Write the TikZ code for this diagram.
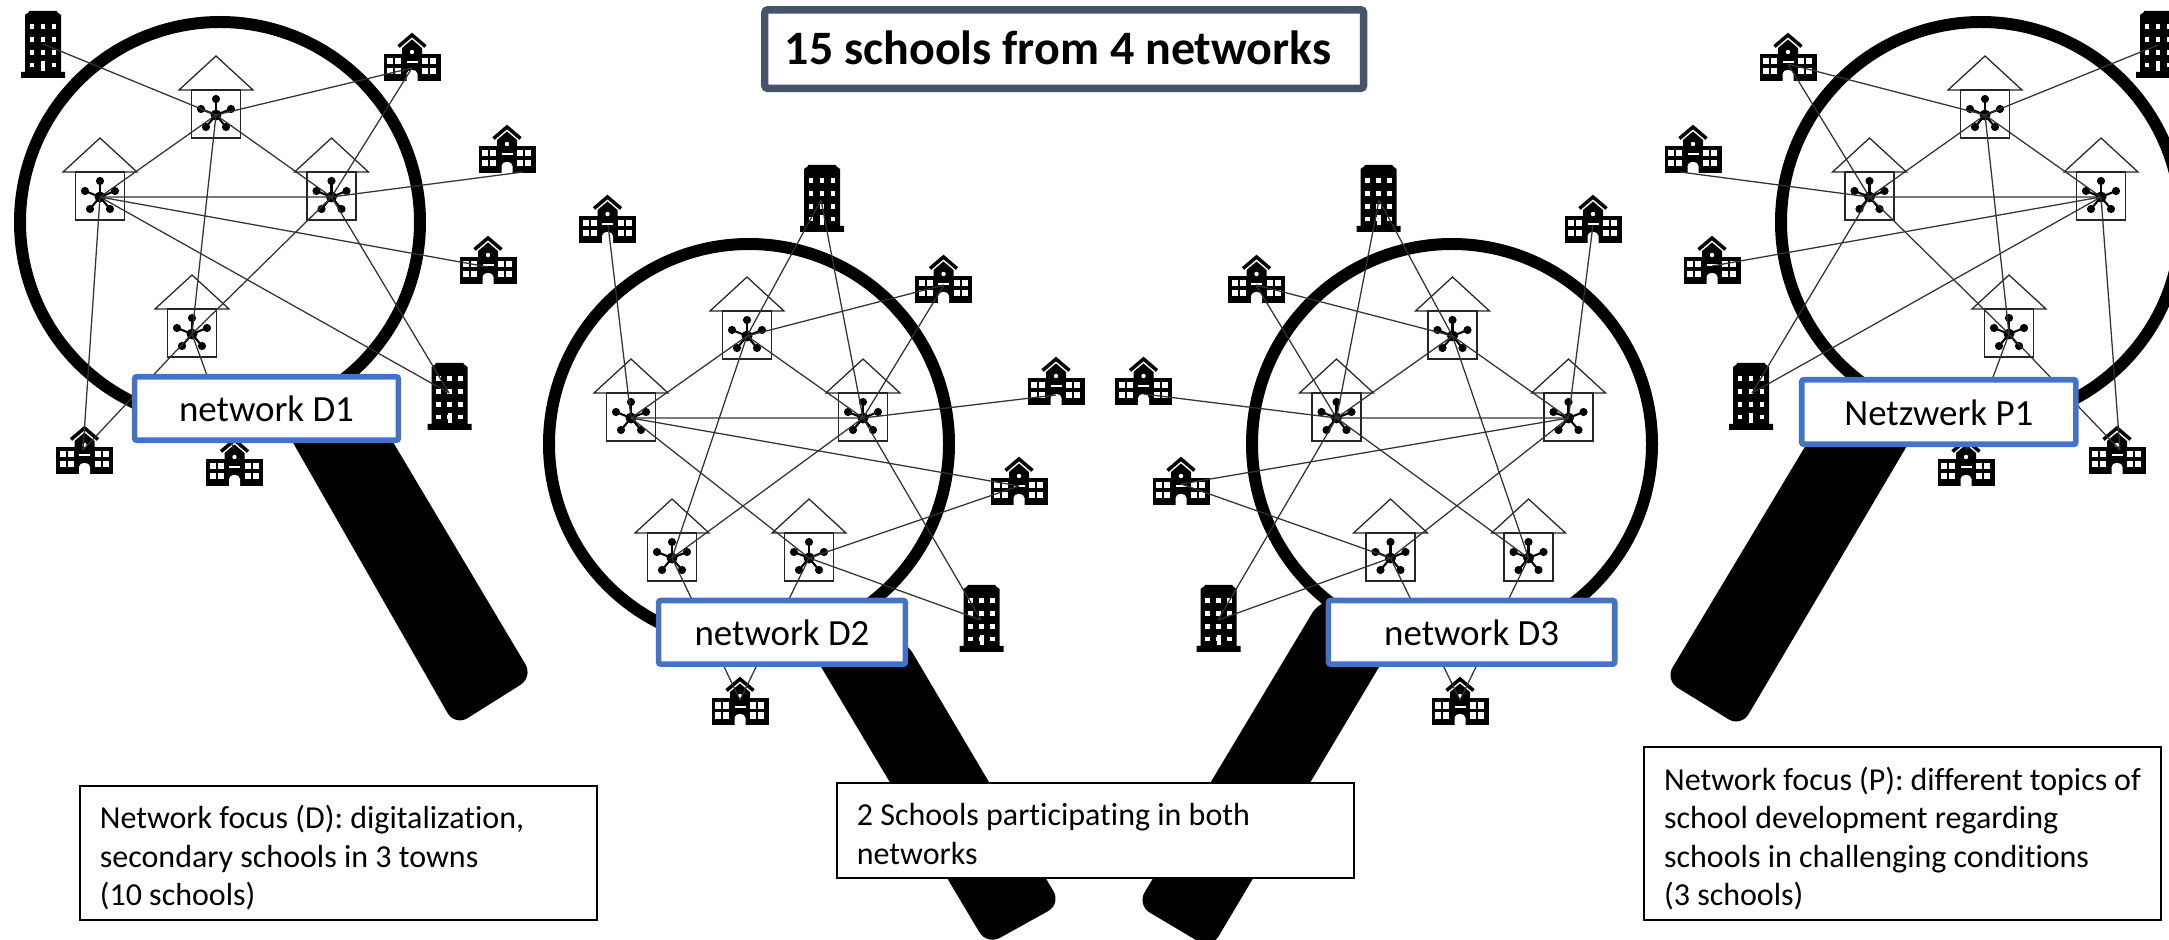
\documentclass[tikz,border=0pt]{standalone}
\usepackage{fontspec}
\setmainfont[Ligatures=NoCommon]{Carlito}
\definecolor{lensblue}{HTML}{4472C4}
\definecolor{titleslate}{HTML}{44546A}
\definecolor{linkgrey}{HTML}{333333}
\tikzset{
  school/.pic={
    \fill[black] (-28.5,21) rectangle (28.5,48);
    \fill[black] (-10,22) -- (-10,15) -- (0,6.5) -- (10,15) -- (10,22) -- cycle;
    \draw[black,line width=1pt] (-13.5,13.5) -- (0,2) -- (13.5,13.5);
    \fill[white] (0,19) circle[radius=2.2];
    \fill[white] (-5.5,48) -- (-5.5,41) .. controls (-5.5,35.5) and (5.5,35.5) .. (5.5,41) -- (5.5,48) -- cycle;
    \fill[white] (-5.5,28.5) rectangle (5.5,30.5);
    \foreach \px in {-25,-17,10,18}{
      \foreach \py in {25,35}{
        \fill[white] (\px,\py) rectangle ++(6.3,6.5);
      }
    }
  },
  tallblock/.pic={
    \fill[black] (-14,0) -- (14,0) -- (14,1) -- (18,4) -- (18,61) -- (22,61) -- (22,67) -- (-22,67) -- (-22,61) -- (-18,61) -- (-18,4) -- (-14,1) -- cycle;
    \foreach \py in {15.7,28.3,41.3,54}{
      \foreach \px in {-11,0,11}{
        \fill[white] (\px-2.4,\py-2.4) rectangle (\px+2.4,\py+2.4);
      }
    }
    \fill[white] (-2,50) rectangle (2,60);
  },
  hubhouse/.pic={
    \draw[housedraw] (-37,-25) -- (0,-59) -- (37,-25) -- cycle;
    \draw[housedraw] (-24.5,-25) rectangle (24.5,23);
    \foreach \dx/\dy in {0/-16,-15/-6,15/-6,-10/12,10/12}{
      \draw[black,line width=.6pt] (0,0) -- (\dx,\dy);
      \fill[black] (\dx,\dy) circle[radius=4.1];
    }
    \fill[black] (0,0) circle[radius=5.5];
  },
  housedraw/.style={draw=black!85,line width=.36pt},
  link/.style={draw=linkgrey,line width=.36pt},
  grip/.style={fill=black,rounded corners=4.2pt},
  ring/.style={draw=black,line width=3.41pt},
  lenslabel/.style={draw=lensblue,fill=white,line width=1.6pt,rounded corners=.6pt,inner sep=0pt,
    font=\fontsize{10.5}{13}\selectfont,text height=9.3pt,text depth=1.9pt,minimum height=.635cm},
  notebox/.style={draw=black,fill=white,line width=.55pt,inner ysep=0pt,inner xsep=.2cm,
    font=\fontsize{9.1}{10.95}\selectfont,align=left,text width=4.765cm},
}
\newcommand{\plainsp}{\spaceskip=0pt \xspaceskip=0pt \hyphenpenalty=10000 }
\newcommand{\hubAt}[2]{\coordinate (#1) at (#2); \pic at (#1) {hubhouse};}
\newcommand{\schoolAt}[3]{\pic at (#2) {school}; \coordinate (#1) at (#3);}
\newcommand{\towerAt}[3]{\pic at (#2) {tallblock}; \coordinate (#1) at (#3);}
\begin{document}
\begin{tikzpicture}[x=0.01cm,y=-0.01cm]
\useasboundingbox (0,0) rectangle (2169,940);
\begin{scope}
\clip (0,0) rectangle (2169,940);
% handles
\fill[grip] (260,385) -- (455,726) -- (533,677) -- (359,385) -- cycle;
\fill[grip] (805,640) -- (987,945) -- (1061,904) -- (905,640) -- cycle;
\fill[grip] (1320,600) -- (1137,905) -- (1211,949) -- (1419,600) -- cycle;
\fill[grip] (1833,400) -- (1665,680) -- (1741,727) -- (1934,400) -- cycle;
% lenses
\draw[ring] (220,222) circle[radius=200];
\draw[ring] (749,444) circle[radius=200];
\draw[ring] (1452,444) circle[radius=200];
\draw[ring] (1981,222) circle[radius=200];
% network D1
\towerAt{dat}{43,11}{43,44}
\towerAt{dau}{449.5,363}{449,393}
\schoolAt{das}{412,33}{412,68}
\schoolAt{dbs}{507,125}{523,172}
\schoolAt{dcs}{488,236}{488,267}
\schoolAt{dds}{84.5,426}{83,450}
\schoolAt{des}{234.5,438}{234,450}
\hubAt{da}{216,115}
\hubAt{db}{100,197}
\hubAt{dc}{331.5,197}
\hubAt{dd}{192,334}
\draw[link] (da)--(db) (da)--(dc) (db)--(dc) (da)--(dd) (dc)--(dd);
\draw[link] (dat)--(da) (das)--(da) (das)--(dc) (dbs)--(dc) (dcs)--(db) (dau)--(db) (dau)--(dc) (dds)--(db) (dds)--(dd) (des)--(dd);
% network D2
\towerAt{eat}{822,165}{821,200}
\towerAt{eau}{981.5,585}{981,620}
\schoolAt{eas}{607.5,195}{608,225}
\schoolAt{ebs}{943.5,255}{944,285}
\schoolAt{ecs}{1056,357}{1056,395}
\schoolAt{eds}{1019,457}{1019,486}
\schoolAt{ees}{740,677}{740,700}
\hubAt{ea}{747,336}
\hubAt{eb}{631,418}
\hubAt{ec}{863,418}
\hubAt{ed}{672,558}
\hubAt{ee}{809,558}
\draw[link] (ea)--(eb) (ea)--(ec) (eb)--(ec) (ea)--(ed) (ec)--(ed) (eb)--(ee);
\draw[link] (eas)--(eb) (eat)--(ea) (eat)--(ec) (ebs)--(ea) (ebs)--(ec) (ecs)--(ec) (eds)--(eb) (eds)--(ee) (eau)--(ec) (eau)--(ee) (ees)--(ed) (ees)--(ee);
% network D3
\towerAt{fat}{1378.5,165}{1379,200}
\towerAt{fau}{1218.5,585}{1218,620}
\schoolAt{fas}{1593,195}{1593,225}
\schoolAt{fbs}{1256.5,255}{1256,285}
\schoolAt{fcs}{1143.5,357}{1143.5,394}
\schoolAt{fds}{1181,457}{1181,484}
\schoolAt{fes}{1460,677}{1460,700}
\hubAt{fa}{1452.5,336}
\hubAt{fb}{1336.5,418}
\hubAt{fc}{1568.5,418}
\hubAt{fd}{1390.5,558}
\hubAt{fe}{1528.5,558}
\draw[link] (fa)--(fb) (fa)--(fc) (fb)--(fc) (fa)--(fe) (fc)--(fd) (fb)--(fe);
\draw[link] (fas)--(fc) (fat)--(fb) (fat)--(fa) (fbs)--(fa) (fbs)--(fb) (fcs)--(fb) (fds)--(fc) (fds)--(fd) (fau)--(fb) (fau)--(fd) (fes)--(fd) (fes)--(fe);
% network P1
\towerAt{gat}{2158,11}{2158,45}
\towerAt{gau}{1751,363}{1752,393}
\schoolAt{gas}{1788,33}{1788,64}
\schoolAt{gbs}{1693,125}{1680,172}
\schoolAt{gcs}{1712,236}{1712,266}
\schoolAt{gds}{2117,426}{2120,450}
\schoolAt{ges}{1966,438}{1966,450}
\hubAt{ga}{1985,115}
\hubAt{gb}{1869.5,197}
\hubAt{gc}{2101,197}
\hubAt{gd}{2009,334}
\draw[link] (ga)--(gb) (ga)--(gc) (gb)--(gc) (ga)--(gd) (gb)--(gd);
\draw[link] (gat)--(ga) (gas)--(ga) (gas)--(gb) (gbs)--(gb) (gcs)--(gc) (gau)--(gb) (gau)--(gc) (gds)--(gc) (gds)--(gd) (ges)--(gd);
% labels on the lenses
\node[lenslabel,minimum width=2.635cm] (ld1) at (266.5,408.5) {network D1};
\node[lenslabel,minimum width=2.466cm] (ld2) at (782,632.3) {network D2};
\node[lenslabel,minimum width=2.862cm] (ld3) at (1471.6,632.3) {network D3};
\node[lenslabel,minimum width=2.74cm,minimum height=.645cm] (lp1) at (1938.8,412) {Netzwerk P1};
% title
\node[draw=titleslate,fill=white,line width=2.1pt,rounded corners=.8pt,inner xsep=.2cm,inner ysep=0pt,
  text width=5.585cm,minimum height=.785cm,align=left,
  font=\fontsize{13.65}{17}\selectfont\bfseries,text height=11.8pt,text depth=3pt] (title) at (1064.2,49.1) {\plainsp 15 schools from 4 networks};
% notes
\node[notebox,minimum height=1.34cm] (noted) at (338.25,853) {\plainsp\rule{0pt}{9.4pt}Network focus (D): digitalization,\\secondary schools in 3 towns\\(10 schools)};
\node[notebox,minimum height=.95cm] (noteb) at (1095.25,830.5) {\plainsp\rule{0pt}{8.2pt}2 Schools participating in both\\networks};
\node[notebox,minimum height=1.73cm] (notep) at (1902.5,833.5) {\plainsp\rule{0pt}{9.4pt}Network focus (P): different topics of\\school development regarding\\schools in challenging conditions\\(3 schools)};
\end{scope}
\end{tikzpicture}
\end{document}
